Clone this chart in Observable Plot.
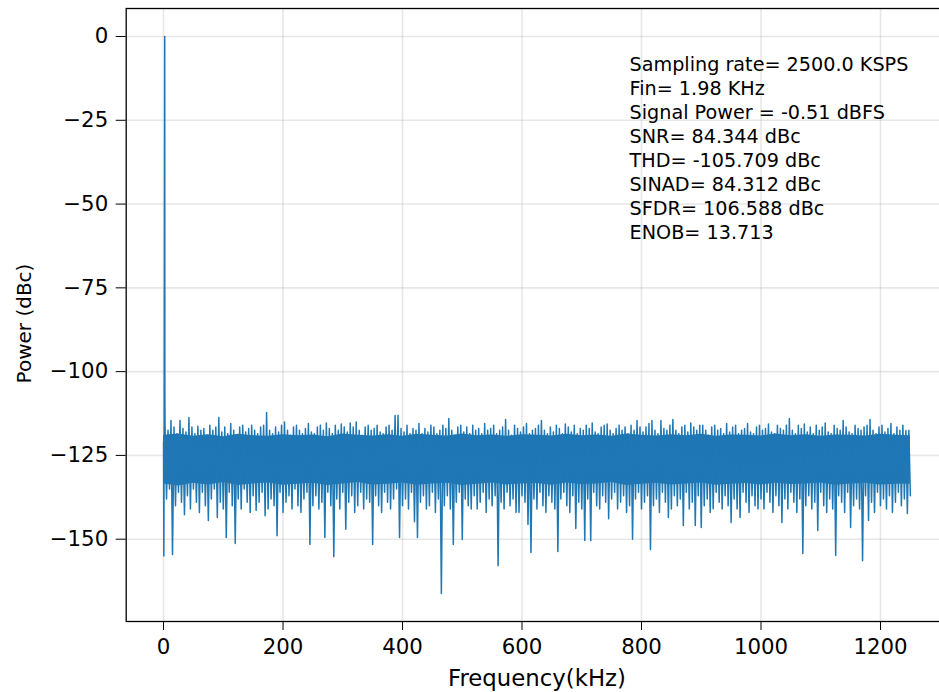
<!DOCTYPE html>
<html>
<head>
<meta charset="utf-8">
<script src="https://cdn.jsdelivr.net/npm/d3@7"></script>
<script src="https://cdn.jsdelivr.net/npm/@observablehq/plot@0.6"></script>
<style>
  html, body { margin: 0; padding: 0; background: #fff; overflow: hidden; }
  #chart svg { display: block; }
</style>
</head>
<body>
<div id="chart"></div>
<script>
// ---- data ----
// carrier region near DC (kHz, dBc)
const carrierFreq = [0, 0.5, 1.0, 1.98, 2.2];
const carrierDb   = [-121, -155, -122, 0, -106];

// dense core of the noise floor (every 25 kHz): where the trace fills the band solidly
const coreKHz = 25;
const coreTop = [
  -119, -118.6, -119.3, -118.8, -119.4, -118.7, -119.1, -119.3, -118.8, -119.1,
  -118.9, -119.4, -118.6, -119, -119.2, -118.8, -119.3, -118.7, -119, -119.2,
  -118.6, -119.1, -118.9, -119.3, -118.8, -119, -119.2, -118.7, -119.1, -118.9,
  -119.3, -118.6, -119, -119.2, -118.8, -119.1, -118.7, -119.3, -118.9, -119,
  -119.2, -118.6, -119.1, -118.8, -119.3, -118.9, -119, -119.2, -118.7, -119, -119.1
];
const coreBottom = [
  -133.5, -134.1, -133.3, -133.8, -133.1, -134, -133.5, -133.2, -133.9, -133.6,
  -133.3, -134, -133.5, -133.1, -133.8, -133.6, -133.2, -133.9, -133.5, -133.3,
  -134, -133.6, -133.2, -133.8, -133.5, -133.4, -133.9, -133.2, -133.7, -133.5,
  -133.1, -134, -133.6, -133.3, -133.8, -133.5, -133.2, -133.9, -133.6, -133.4,
  -133.8, -133.3, -133.7, -133.5, -133.2, -133.9, -133.5, -133.3, -133.8, -133.6, -133.5
];

// noise floor: one bin every 5 kHz; upper and lower excursion of the trace in each bin (dBc)
const binKHz = 5;
const noiseUpper = [
  -116, -117.5, -114.6, -116.5, -118.5, -114.6, -117, -118, -113.7, -116.5,
  -118.5, -116.3, -117.5, -117, -119, -116, -117.5, -116.5, -113.7, -118,
  -116.5, -118.5, -115.5, -117.5, -119, -116.5, -116, -118, -117, -116,
  -117.5, -118.5, -116.5, -116, -112.2, -117.5, -118.5, -116.5, -118, -116,
  -115, -117.5, -119, -116.5, -116, -117.5, -118.5, -117, -115.5, -118,
  -118.5, -116.5, -116, -117.5, -115.3, -117, -118.5, -116, -117.5, -115.6,
  -116.5, -118, -115.3, -116.5, -115, -117.5, -119, -116.5, -116, -117.5,
  -117, -116, -118, -118.5, -116.5, -116, -117.5, -113.1, -113, -117,
  -118, -116, -118.5, -117, -117.5, -115.5, -118.5, -117, -118, -116,
  -116.5, -118.5, -117.5, -116, -117, -114, -117.5, -119, -116.5, -116,
  -118, -116.5, -118.5, -116, -117.5, -117, -118.5, -115.5, -117.5, -117,
  -116, -118.5, -117.5, -116.5, -114.3, -117.5, -119, -116, -117, -118,
  -116.5, -115.5, -118.5, -117.5, -117, -116, -114.6, -117.5, -118.5, -116.5,
  -118, -116, -117, -118.5, -115.6, -116.5, -118, -116, -118.5, -117,
  -117.5, -116, -117, -115.3, -118, -118.5, -116.5, -116, -115.6, -117.5,
  -118.5, -117, -116, -117.5, -116.5, -118.5, -116, -117.5, -114.6, -116.5,
  -118, -116.5, -115.5, -114.6, -117.5, -118.5, -114.6, -117, -117.5, -116,
  -114.3, -117.5, -118.5, -116.5, -116, -118, -115.3, -116.5, -117.5, -116,
  -116, -117.5, -119, -116.5, -116, -117.5, -117, -118.5, -115.5, -118,
  -116.5, -116, -118.5, -117.5, -117, -115.5, -118, -118.5, -116.5, -116,
  -117.5, -117, -115.6, -118, -118.5, -116, -117, -117.5, -116, -114,
  -117.5, -118.5, -116, -117, -115.6, -118, -116.5, -118.5, -116, -117.5,
  -116.5, -115.3, -118, -118.5, -116, -117, -117.5, -114.6, -116.5, -118,
  -118.5, -116, -117, -117.5, -116.5, -116, -114.3, -117.5, -118.5, -116.5,
  -116, -118, -117, -115.5, -118.5, -116.5, -117.5, -116, -117.6, -117.5
];
const noiseLower = [
  -138, -135, -154.6, -140, -136, -139, -142.7, -137, -141, -135,
  -139, -142, -136, -140, -144.4, -138, -135, -143.5, -139, -141,
  -149.5, -136, -140, -151.3, -138, -141, -135, -139, -142, -137,
  -141.4, -139, -136, -143, -141, -138, -140, -149, -136, -142,
  -139, -137, -141, -135, -140, -142, -138, -136, -151.6, -140,
  -137, -141, -139, -149.5, -136, -140, -155.2, -138, -141, -136,
  -147, -139, -137, -142, -140, -136, -141, -138, -139, -151.6,
  -137, -140, -142, -136, -139, -141, -138, -135, -149.5, -140,
  -138, -141, -136, -144.8, -149.5, -139, -137, -141, -140, -136,
  -142, -138, -166.2, -140, -137, -141, -151.6, -139, -136, -150.1,
  -138, -140, -141, -137, -141, -139, -136, -142, -138, -140,
  -137, -157.9, -139, -141, -136, -140, -138, -142, -142, -137,
  -139, -145.6, -154, -138, -141, -136, -140, -142, -137, -139,
  -141, -153.7, -138, -136, -140, -142, -137, -146.8, -139, -141,
  -150.4, -138, -150.4, -136, -140, -141, -137, -139, -143.9, -138,
  -136, -141, -139, -137, -142, -140, -150, -138, -136, -141,
  -139, -137, -153.1, -140, -138, -142, -136, -139, -143.5, -141,
  -137, -140, -138, -145.9, -136, -141, -139, -145.9, -137, -146.5,
  -140, -138, -142, -140.9, -136, -139, -141, -137, -140, -145,
  -138, -141, -143.5, -136, -139, -142, -137, -140, -141, -138,
  -141, -136, -139, -142, -137, -140, -145, -138, -141, -136,
  -139, -142, -138, -154.3, -140, -137, -141, -139, -147.4, -136,
  -140, -142, -138, -141, -154.9, -137, -139, -142, -136, -146.5,
  -140, -138, -141, -156.4, -137, -144.4, -139, -142, -136, -140,
  -138, -141, -137, -142, -139, -136, -140, -138, -142.3, -137
];

const xTicks = [0, 200, 400, 600, 800, 1000, 1200];
const yTicks = [0, -25, -50, -75, -100, -125, -150];
const statLines = [
  "Sampling rate= 2500.0 KSPS",
  "Fin= 1.98 KHz",
  "Signal Power = -0.51 dBFS",
  "SNR= 84.344 dBc",
  "THD= -105.709 dBc",
  "SINAD= 84.312 dBc",
  "SFDR= 106.588 dBc",
  "ENOB= 13.713"
];
const xLabel = "Frequency(kHz)";
const yLabel = "Power (dBc)";

// ---- build the trace ----
const trace = carrierFreq.map((f, i) => ({f, db: carrierDb[i]}));
noiseUpper.forEach((u, i) => {
  trace.push({f: binKHz * i + binKHz / 2, db: u});
  trace.push({f: binKHz * (i + 1), db: noiseLower[i]});
});
const core = coreTop.map((t, i) => ({f: coreKHz * i, top: t, bottom: coreBottom[i]}));

const fmtMinus = d => d < 0 ? "\u2212" + Math.abs(d) : String(d);
const blue = "#1f77b4";

const chart = Plot.plot({
  width: 939,
  height: 692,
  marginLeft: 125.7,
  marginRight: -8.2,
  marginTop: 8,
  marginBottom: 71,
  style: {fontFamily: "DejaVu Sans", fontSize: "21px", color: "#000", background: "#fff"},
  x: {domain: [-62.5, 1312.5]},
  y: {domain: [-174.56, 8.355]},
  marks: [
    Plot.gridX(xTicks, {stroke: "#b0b0b0", strokeOpacity: 0.3, strokeWidth: 1.6}),
    Plot.gridY(yTicks, {stroke: "#b0b0b0", strokeOpacity: 0.3, strokeWidth: 1.6}),
    Plot.areaY(core, {x: "f", y1: "bottom", y2: "top", fill: blue}),
    Plot.line(trace, {x: "f", y: "db", stroke: blue, strokeWidth: 1.5}),
    Plot.axisX(xTicks, {tickSize: 9, tickPadding: 8, tickFormat: fmtMinus, fontSize: 21.3, label: null}),
    Plot.axisY(yTicks, {tickSize: 10, tickPadding: 8, tickFormat: fmtMinus, fontSize: 21.3, label: null}),
    Plot.text([xLabel], {frameAnchor: "bottom", dy: 57.7, lineAnchor: "middle", text: d => d, fontSize: 22.8, fill: "#000"}),
    Plot.text([yLabel], {frameAnchor: "left", dx: -102.1, dy: 8.5, rotate: -90, textAnchor: "middle",
      lineAnchor: "middle", text: d => d, fontSize: 20, fill: "#000"}),
    Plot.text([statLines.join("\n")], {x: () => 780, y: () => -5.1, text: d => d,
      textAnchor: "start", lineAnchor: "top", fontSize: 19.2, lineHeight: 1.25, fill: "#000"}),
    Plot.frame({stroke: "#000", strokeWidth: 1.3})
  ]
});
document.getElementById("chart").appendChild(chart);
</script>
</body>
</html>
